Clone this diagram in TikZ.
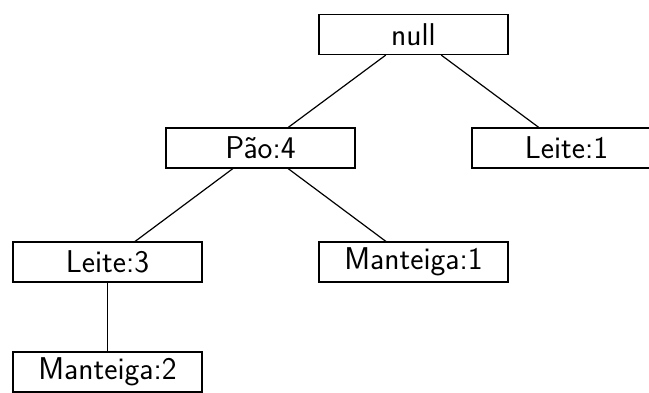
\documentclass[tikz,border=0pt]{standalone}
\begin{document}
\begin{tikzpicture}[x=1pt,y=-1pt,
  item/.style={draw, line width=1.2pt, minimum width=189pt, minimum height=40pt,
    inner sep=0pt, font=\fontsize{31.5}{36}\selectfont\sffamily},
  link/.style={line width=1.2pt}]
\useasboundingbox (0,0) rectangle (649,392);
\clip (0,0) rectangle (649,392);
\node[item] (null) at (413.5,34.5) {null};
\node[item] (pao4) at (260.5,148) {Pão:4};
\node[item] (leite1) at (566.5,148) {Leite:1};
\node[item] (leite3) at (107.5,262) {Leite:3};
\node[item] (mant1) at (413.5,262) {Manteiga:1};
\node[item] (mant2) at (107.5,372) {Manteiga:2};
\draw[link] (null) -- (pao4);
\draw[link] (null) -- (leite1);
\draw[link] (pao4) -- (leite3);
\draw[link] (pao4) -- (mant1);
\draw[link] (leite3) -- (mant2);
\end{tikzpicture}
\end{document}
